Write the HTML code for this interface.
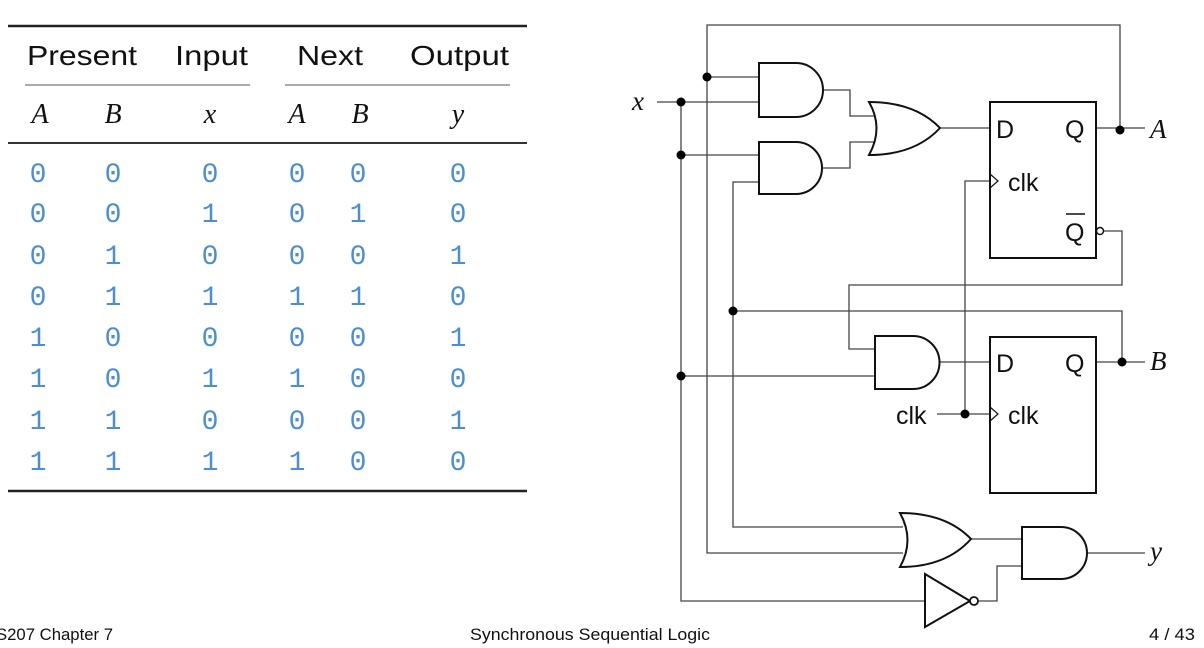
<!DOCTYPE html>
<html><head><meta charset="utf-8"><style>
html,body{margin:0;padding:0;background:#fff;width:1204px;height:648px;overflow:hidden}
svg{display:block}
.s{font-family:"Liberation Sans",sans-serif;fill:#111}
.m{font-family:"Liberation Mono",monospace;fill:#4a8fd6;font-size:28px}
.i{font-family:"Liberation Serif",serif;font-style:italic;fill:#111}
.w{stroke:#444;stroke-width:1.3;fill:none}
.g{stroke:#111;stroke-width:2;fill:#fff}
</style></head><body>
<svg width="1204" height="648" viewBox="0 0 1204 648">
<!-- table -->
<line x1="8" y1="26" x2="527" y2="26" stroke="#222" stroke-width="2.5"/>
<g class="s" font-size="28">
<text x="27" y="65" textLength="110" lengthAdjust="spacingAndGlyphs">Present</text>
<text x="175" y="65" textLength="73" lengthAdjust="spacingAndGlyphs">Input</text>
<text x="297" y="65" textLength="66" lengthAdjust="spacingAndGlyphs">Next</text>
<text x="410" y="65" textLength="99" lengthAdjust="spacingAndGlyphs">Output</text>
</g>
<line x1="25" y1="85" x2="250" y2="85" stroke="#555" stroke-width="1"/>
<line x1="285" y1="85" x2="510" y2="85" stroke="#555" stroke-width="1"/>
<g class="i" font-size="28" text-anchor="middle">
<text x="40" y="123">A</text><text x="113" y="123">B</text><text x="210" y="123">x</text>
<text x="297" y="123">A</text><text x="360" y="123">B</text><text x="458" y="123">y</text>
</g>
<line x1="8" y1="143" x2="527" y2="143" stroke="#333" stroke-width="2"/>
<g class="m" text-anchor="middle">
<text x="38" y="182">0</text><text x="113" y="182">0</text><text x="210" y="182">0</text><text x="297" y="182">0</text><text x="358" y="182">0</text><text x="458" y="182">0</text>
<text x="38" y="222">0</text><text x="113" y="222">0</text><text x="210" y="222">1</text><text x="297" y="222">0</text><text x="358" y="222">1</text><text x="458" y="222">0</text>
<text x="38" y="264">0</text><text x="113" y="264">1</text><text x="210" y="264">0</text><text x="297" y="264">0</text><text x="358" y="264">0</text><text x="458" y="264">1</text>
<text x="38" y="305">0</text><text x="113" y="305">1</text><text x="210" y="305">1</text><text x="297" y="305">1</text><text x="358" y="305">1</text><text x="458" y="305">0</text>
<text x="38" y="346">1</text><text x="113" y="346">0</text><text x="210" y="346">0</text><text x="297" y="346">0</text><text x="358" y="346">0</text><text x="458" y="346">1</text>
<text x="38" y="387">1</text><text x="113" y="387">0</text><text x="210" y="387">1</text><text x="297" y="387">1</text><text x="358" y="387">0</text><text x="458" y="387">0</text>
<text x="38" y="429">1</text><text x="113" y="429">1</text><text x="210" y="429">0</text><text x="297" y="429">0</text><text x="358" y="429">0</text><text x="458" y="429">1</text>
<text x="38" y="470">1</text><text x="113" y="470">1</text><text x="210" y="470">1</text><text x="297" y="470">1</text><text x="358" y="470">0</text><text x="458" y="470">0</text>
</g>
<line x1="8" y1="491" x2="527" y2="491" stroke="#222" stroke-width="2.5"/>
<!-- footer -->
<g class="s" font-size="17" fill="#222">
<text x="-4" y="640" textLength="117" lengthAdjust="spacingAndGlyphs">S207 Chapter 7</text>
<text x="470" y="640" textLength="240" lengthAdjust="spacingAndGlyphs">Synchronous Sequential Logic</text>
<text x="1149" y="640" textLength="46" lengthAdjust="spacingAndGlyphs">4 / 43</text>
</g>
<!-- wires -->
<g class="w">
<polyline points="657,102 759,102"/>
<polyline points="681,102 681,601 925,601"/>
<polyline points="681,155 759,155"/>
<polyline points="681,376 875,376"/>
<polyline points="903,553 707,553 707,25 1120,25 1120,130"/>
<polyline points="707,77 759,77"/>
<polyline points="759,182 733,182 733,527 903,527"/>
<polyline points="733,311 1122,311 1122,362"/>
<polyline points="823,90 850,90 850,116 874,116"/>
<polyline points="823,168 850,168 850,142 874,142"/>
<polyline points="940,128 990,128"/>
<polyline points="1096,128 1145,128"/>
<polyline points="1104,231 1122,231 1122,285 849,285 849,349 875,349"/>
<polyline points="990,181 965,181 965,414"/>
<polyline points="937,414 990,414"/>
<polyline points="940,362 990,362"/>
<polyline points="1096,362 1145,362"/>
<polyline points="971,539 1022,539"/>
<polyline points="978,601 997,601 997,566 1022,566"/>
<polyline points="1087,553 1145,553"/>
</g>
<!-- dots -->
<g fill="#000">
<circle cx="681" cy="102" r="4.5"/><circle cx="681" cy="155" r="4.5"/><circle cx="681" cy="376" r="4.5"/>
<circle cx="707" cy="77" r="4.5"/><circle cx="733" cy="311" r="4.5"/>
<circle cx="1120" cy="130" r="4.5"/><circle cx="1122" cy="362" r="4.5"/><circle cx="965" cy="414" r="4.5"/>
</g>
<!-- gates -->
<path class="g" d="M759,63 H796 A27,27 0 0 1 796,117 H759 Z"/>
<path class="g" d="M759,142 H796 A26,26 0 0 1 796,194 H759 Z"/>
<path class="g" d="M869,102 Q915,102 940,128 Q915,155 869,155 Q884,128 869,102 Z"/>
<path class="g" d="M875,336 H913 A26.5,26.5 0 0 1 913,389 H875 Z"/>
<path class="g" d="M900,513 Q946,513 971,539 Q946,567 900,567 Q915,540 900,513 Z"/>
<path class="g" d="M1022,527 H1061 A26,26 0 0 1 1061,579 H1022 Z"/>
<path class="g" d="M925,574 L970,601 L925,627 Z"/>
<circle cx="974" cy="601" r="4" fill="#fff" stroke="#111" stroke-width="1.8"/>
<!-- flip-flops -->
<rect x="990" y="102" width="106" height="156" fill="#fff" stroke="#111" stroke-width="2"/>
<rect x="990" y="337" width="106" height="156" fill="#fff" stroke="#111" stroke-width="2"/>
<circle cx="1100" cy="231" r="3.5" fill="#fff" stroke="#111" stroke-width="1.5"/>
<polyline points="990,174 998,181 990,188" fill="none" stroke="#111" stroke-width="1.2"/>
<polyline points="990,407 998,414 990,421" fill="none" stroke="#111" stroke-width="1.2"/>
<g class="s" font-size="25">
<text x="996" y="138">D</text><text x="1065" y="138">Q</text>
<text x="1008" y="191">clk</text><text x="1065" y="241">Q</text>
<text x="996" y="372">D</text><text x="1065" y="372">Q</text>
<text x="1008" y="424">clk</text><text x="896" y="424">clk</text>
</g>
<line x1="1066" y1="214" x2="1085" y2="214" stroke="#111" stroke-width="1.5"/>
<g class="i" font-size="27">
<text x="632" y="110">x</text><text x="1150" y="138">A</text>
<text x="1150" y="370">B</text><text x="1150" y="560">y</text>
</g>
</svg>
</body></html>
